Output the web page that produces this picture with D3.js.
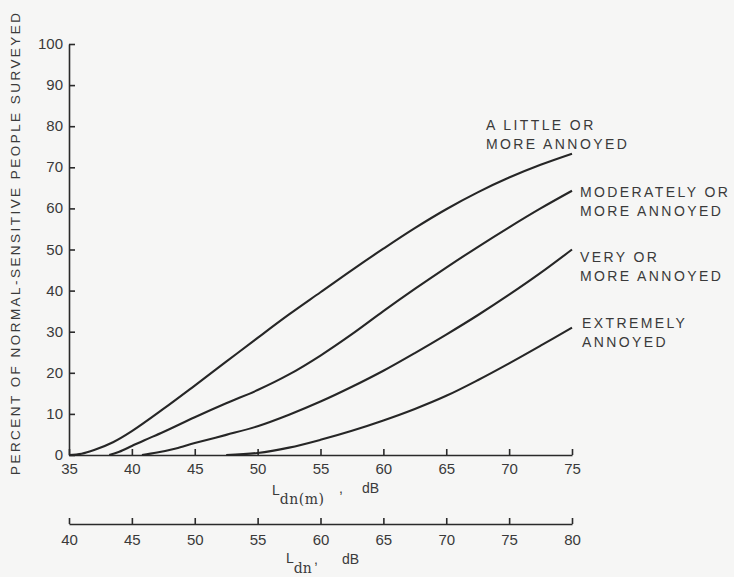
<!DOCTYPE html>
<html>
<head>
<meta charset="utf-8">
<script src="https://cdn.jsdelivr.net/npm/d3@7"></script>
<style>
  html, body { margin: 0; padding: 0; background: #f6f6f5; }
  svg { display: block; font-family: "Liberation Sans", Arial, sans-serif; }
  .axis text { fill: #3a3a3a; font-size: 15px; }
  .axis path, .axis line { stroke: #2a2a2a; stroke-width: 1.6; }
  .lbl { fill: #3a3a3a; font-size: 14px; }
</style>
</head>
<body>
<svg id="chart" width="734" height="577"></svg>
<script>
// Percent annoyed vs. Ldn(m)
const littleX = [35, 36, 37, 38.5, 40, 42.5, 45, 47.5, 50, 52.5, 55, 57.5, 60, 62.5, 65, 67.5, 70, 72.5, 75];
const littleY = [0, 0.3, 1.2, 3.1, 5.8, 11.2, 16.9, 22.7, 28.5, 34.2, 39.6, 45, 50.2, 55.2, 59.8, 63.9, 67.5, 70.6, 73.3];

const moderateX = [38.2, 39, 40, 41, 42.5, 45, 47.5, 50, 52.5, 55, 57.5, 60, 62.5, 65, 67.5, 70, 72.5, 75];
const moderateY = [0, 0.8, 2.2, 3.6, 5.6, 9.2, 12.6, 15.8, 19.6, 24.2, 29.4, 35, 40.4, 45.6, 50.6, 55.4, 60, 64.3];

const veryX = [40.8, 42, 43.5, 45, 47.5, 50, 52.5, 55, 57.5, 60, 62.5, 65, 67.5, 70, 72.5, 75];
const veryY = [0, 0.6, 1.6, 2.9, 4.9, 7, 9.8, 13, 16.6, 20.5, 24.8, 29.3, 34, 39, 44.3, 50];

const extremeX = [47.5, 50, 52.5, 55, 57.5, 60, 62.5, 65, 67.5, 70, 72.5, 75];
const extremeY = [0, 0.5, 1.8, 3.7, 5.9, 8.4, 11.2, 14.4, 18.2, 22.3, 26.6, 31];

const curveNames = [
  ["A LITTLE OR", "MORE ANNOYED"],
  ["MODERATELY OR", "MORE ANNOYED"],
  ["VERY OR", "MORE ANNOYED"],
  ["EXTREMELY", "ANNOYED"]
];

const yTicks = [0, 10, 20, 30, 40, 50, 60, 70, 80, 90, 100];
const xTicks = [35, 40, 45, 50, 55, 60, 65, 70, 75];
const x2Ticks = [40, 45, 50, 55, 60, 65, 70, 75, 80];

const svg = d3.select("#chart");

const x = d3.scaleLinear().domain([35, 75]).range([69, 572]);
const x2 = d3.scaleLinear().domain([40, 80]).range([69, 572]);
const y = d3.scaleLinear().domain([0, 100]).range([455, 44]);

// y axis
svg.append("g")
  .attr("class", "axis")
  .attr("transform", "translate(69,0)")
  .call(d3.axisLeft(y).tickValues(yTicks).tickSize(-6).tickSizeOuter(0).tickPadding(6))
  .call(g => g.selectAll("text").attr("dy", "0.3em"));

// upper x axis, Ldn(m)
svg.append("g")
  .attr("class", "axis")
  .attr("transform", "translate(0,455)")
  .call(d3.axisBottom(x).tickValues(xTicks).tickSize(-6).tickSizeOuter(0).tickPadding(8));

// lower x axis, Ldn
svg.append("g")
  .attr("class", "axis")
  .attr("transform", "translate(0,524)")
  .call(d3.axisBottom(x2).tickValues(x2Ticks).tickSize(-6).tickSizeOuter(0).tickPadding(10));

// curves
const series = [
  littleX.map((v, i) => [v, littleY[i]]),
  moderateX.map((v, i) => [v, moderateY[i]]),
  veryX.map((v, i) => [v, veryY[i]]),
  extremeX.map((v, i) => [v, extremeY[i]])
];

const line = d3.line()
  .x(d => x(d[0]))
  .y(d => y(d[1]))
  .curve(d3.curveCatmullRom.alpha(0.5));

svg.append("g")
  .selectAll("path")
  .data(series)
  .join("path")
  .attr("d", line)
  .attr("fill", "none")
  .attr("stroke", "#262626")
  .attr("stroke-width", 2.1);

// curve labels
const labelPos = [[486, 125], [580, 192], [580, 257], [582, 323]];
curveNames.forEach((lines, i) => {
  const t = svg.append("text").attr("class", "lbl")
    .attr("x", labelPos[i][0]).attr("y", labelPos[i][1] + 5)
    .style("letter-spacing", "2.4px");
  lines.forEach((s, j) => {
    t.append("tspan").attr("x", labelPos[i][0]).attr("dy", j ? 19 : 0).text(s);
  });
});

// axis titles
const serif = "'DejaVu Serif', serif";
const t1 = svg.append("text").attr("class", "lbl").style("font-size", "14px").attr("x", 272).attr("y", 495);
t1.append("tspan").text("L");
t1.append("tspan").attr("dy", 9).style("font-family", serif).style("font-size", "14px").style("letter-spacing", "0.5px").text("dn(m)");
t1.append("tspan").attr("dy", -11).attr("x", 339).text(",");
t1.append("tspan").attr("dy", 0).attr("x", 362).text("dB");

const t2 = svg.append("text").attr("class", "lbl").style("font-size", "14px").attr("x", 286).attr("y", 563);
t2.append("tspan").text("L");
t2.append("tspan").attr("dy", 10).style("font-family", serif).style("font-size", "14px").text("dn");
t2.append("tspan").attr("dy", -9).attr("x", 314).text(",");
t2.append("tspan").attr("dy", 0).attr("x", 342).text("dB");

svg.append("text")
  .attr("class", "lbl")
  .attr("transform", "translate(20,244) rotate(-90)")
  .attr("text-anchor", "middle")
  .attr("textLength", 462)
  .attr("lengthAdjust", "spacing")
  .style("font-size", "13.5px")
  .text("PERCENT OF NORMAL-SENSITIVE PEOPLE SURVEYED");
</script>
</body>
</html>
